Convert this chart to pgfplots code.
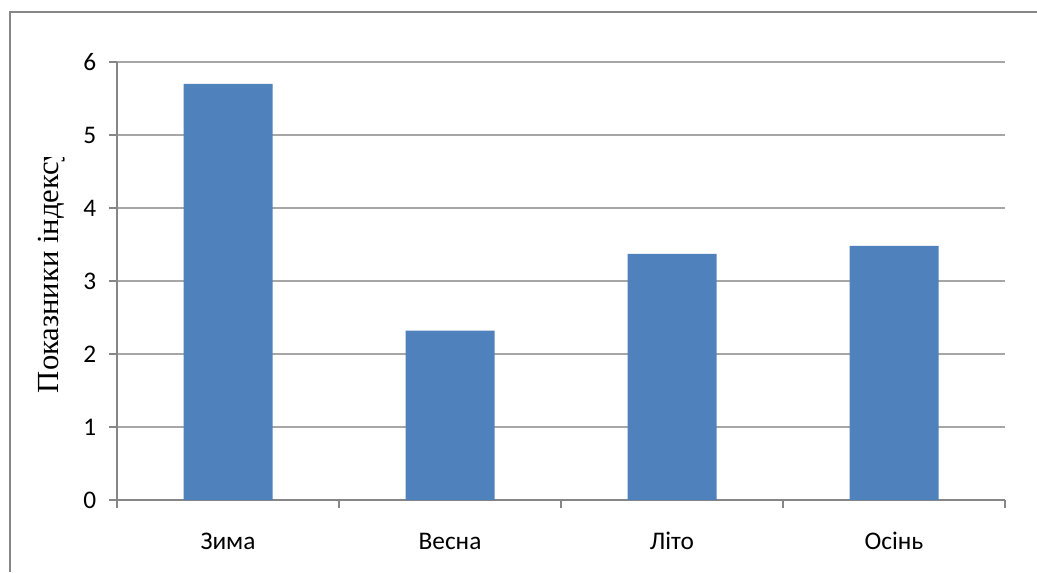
\documentclass[border=0pt]{standalone}
\usepackage{pgfplots}
\pgfplotsset{compat=1.18}
\usepackage{fontspec}
\setmainfont{Carlito}
\newfontfamily\timesfont{Liberation Serif}
\definecolor{barblue}{HTML}{4F81BD}
\definecolor{gridgray}{HTML}{A6A6A6}
\definecolor{axgray}{HTML}{868686}
\begin{document}
\begin{tikzpicture}
\useasboundingbox (0pt,0pt) rectangle (777.75pt,429pt);
\draw[axgray, line width=1.5pt] (7.5pt,0pt) -- (7.5pt,420pt) -- (780pt,420pt);
\begin{scope}
\clip (0pt,0pt) rectangle (90pt,310.5pt);
\node[rotate=90, font=\timesfont\fontsize{23}{25}\selectfont, anchor=south west, inner sep=0pt] at (49pt,134pt) {Показники індексу};
\end{scope}
\begin{axis}[
  at={(87.75pt,54pt)}, anchor=south west,
  scale only axis, width=666pt, height=328.5pt,
  ymin=0, ymax=6, ytick={0,1,2,3,4,5,6},
  xmin=-0.5, xmax=3.5,
  xtick={-0.5,0.5,1.5,2.5,3.5},
  x tick label as interval,
  xticklabels={Зима,Весна,Літо,Осінь},
  ybar, bar width=66.75pt,
  axis x line*=bottom, axis y line*=left,
  axis line style={axgray, line width=0.8pt},
  tick align=outside, major tick length=6pt,
  tick style={axgray, line width=0.8pt},
  ymajorgrids, grid style={gridgray, line width=0.8pt},
  /pgf/number format/assume math mode=true,
  ticklabel style={font=\fontsize{19}{22}\selectfont},
  yticklabel style={xshift=-6pt},
  xticklabel style={anchor=base, yshift=-31pt},
]
\addplot[fill=barblue, draw=none] coordinates {(0,5.7) (1,2.32) (2,3.37) (3,3.48)};
\end{axis}
\end{tikzpicture}
\end{document}
